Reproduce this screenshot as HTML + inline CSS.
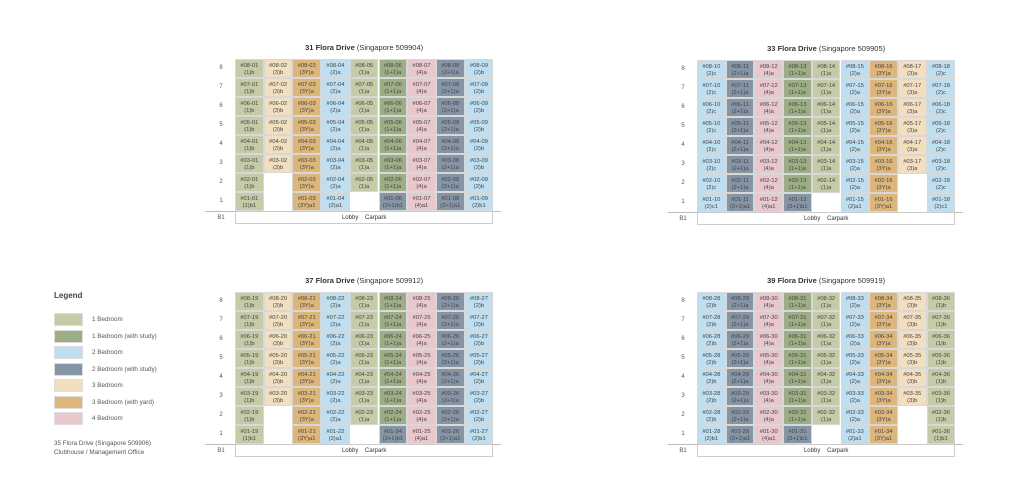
<!DOCTYPE html>
<html><head><meta charset="utf-8"><style>
body{margin:0;width:1024px;height:494px;background:#fff;position:relative;overflow:hidden;font-family:"Liberation Sans",sans-serif;color:#555}
.c{position:absolute;box-sizing:border-box;border:0.5px solid #d8d8d8;font-size:5.8px;line-height:6.5px;text-align:center;padding-top:3px;color:#444}
.t{position:absolute;font-size:7.5px;color:#333;text-align:center}
.f{position:absolute;font-size:6px;color:#555;width:20px;text-align:center}
.b1{position:absolute;box-sizing:border-box;border:1px solid #ccc;background:#fff;font-size:6px;text-align:center;line-height:12px;color:#333}
.ln{position:absolute;height:1px;background:#bbb}
.lg{position:absolute;left:54px;width:29px;height:13px;box-sizing:border-box;border:1px solid #ddd}
.lt{position:absolute;left:92px;font-size:6.3px;color:#555}
</style></head><body>
<div id="r"></div>
<div style="position:absolute;left:54px;top:291px;font-size:8px;color:#444;font-weight:bold">Legend</div>
<div class="lg" style="top:313px;background:#c5caa7"></div><div class="lt" style="top:316px">1 Bedroom</div>
<div class="lg" style="top:330px;background:#9dae86"></div><div class="lt" style="top:333px">1 Bedroom (with study)</div>
<div class="lg" style="top:346px;background:#bfdff0"></div><div class="lt" style="top:349px">2 Bedroom</div>
<div class="lg" style="top:363px;background:#8595a6"></div><div class="lt" style="top:366px">2 Bedroom (with study)</div>
<div class="lg" style="top:379px;background:#f1dfbf"></div><div class="lt" style="top:382px">3 Bedroom</div>
<div class="lg" style="top:396px;background:#dcb67a"></div><div class="lt" style="top:399px">3 Bedroom (with yard)</div>
<div class="lg" style="top:412px;background:#e8c7cd"></div><div class="lt" style="top:415px">4 Bedroom</div>
<div style="position:absolute;left:54px;top:439px;font-size:6.3px;line-height:9px;color:#555">35 Flora Drive (Singapore 509906)<br>Clubhouse / Management Office</div>
<script>
var C={"1":"#c5caa7","1s":"#9dae86","2":"#bfdff0","2s":"#8595a6","3":"#f1dfbf","3Y":"#dcb67a","4":"#e8c7cd"};
var B=[
{t:"31 Flora Drive",p:"509904",x:235,y:59,s:1,cols:[["1","(1)b"],["3","(3)b"],["3Y","(3Y)a"],["2","(2)a"],["1","(1)a"],["1s","(1+1)a"],["4","(4)a"],["2s","(2+1)a"],["2","(2)b"]],m2:[1],m1:[1,4],sp:5,lx:205},
{t:"33 Flora Drive",p:"509905",x:697,y:60,s:10,cols:[["2","(2)c"],["2s","(2+1)a"],["4","(4)a"],["1s","(1+1)a"],["1","(1)a"],["2","(2)a"],["3Y","(3Y)a"],["3","(3)a"],["2","(2)c"]],m2:[7],m1:[4,7],sp:3,lx:668},
{t:"37 Flora Drive",p:"509912",x:235,y:292,s:19,cols:[["1","(1)b"],["3","(3)b"],["3Y","(3Y)a"],["2","(2)a"],["1","(1)a"],["1s","(1+1)a"],["4","(4)a"],["2s","(2+1)a"],["2","(2)b"]],m2:[1],m1:[1,4],sp:5,lx:205},
{t:"39 Flora Drive",p:"509919",x:697,y:292,s:28,cols:[["2","(2)b"],["2s","(2+1)a"],["4","(4)a"],["1s","(1+1)a"],["1","(1)a"],["2","(2)a"],["3Y","(3Y)a"],["3","(3)b"],["1","(1)b"]],m2:[7],m1:[4,7],sp:3,lx:668}];
var h="",W=28.7,H=19;
B.forEach(function(b){
 h+='<div class="t" style="left:'+b.x+'px;width:'+(9*W)+'px;top:'+(b.y-16)+'px"><b>'+b.t+'</b> (Singapore '+b.p+')</div>';
 for(var r=0;r<8;r++){var fl=8-r;var y=b.y+r*H;
  h+='<div class="f" style="left:'+(b.x-24)+'px;top:'+(y+6)+'px">'+fl+'</div>';
  for(var c=0;c<9;c++){
   if(fl==2&&b.m2.indexOf(c)>=0)continue;
   if(fl==1&&b.m1.indexOf(c)>=0)continue;
   var ty=b.cols[c][0],lb=b.cols[c][1];
   if(fl==1){lb=lb+"1";if(c==b.sp){ty="2s";lb="(2+1)b1";}}
   var n=b.s+c;n=(n<10?"0":"")+n;
   h+='<div class="c" style="left:'+(b.x+c*W)+'px;top:'+y+'px;width:'+W+'px;height:'+H+'px;background:'+C[ty]+'">#0'+fl+'-'+n+'<br>'+lb+'</div>';
  }}
 var by=b.y+8*H;
 h+='<div class="ln" style="left:'+b.lx+'px;width:'+(b.x+9*W+8-b.lx)+'px;top:'+by+'px"></div>';
 h+='<div class="f" style="left:'+(b.x-24)+'px;top:'+(by+4)+'px">B1</div>';
 h+='<div class="b1" style="left:'+b.x+'px;top:'+by+'px;width:'+(9*W)+'px;height:13px">Lobby &nbsp;&nbsp; Carpark</div>';
});
document.getElementById("r").innerHTML=h;
</script>
</body></html>
